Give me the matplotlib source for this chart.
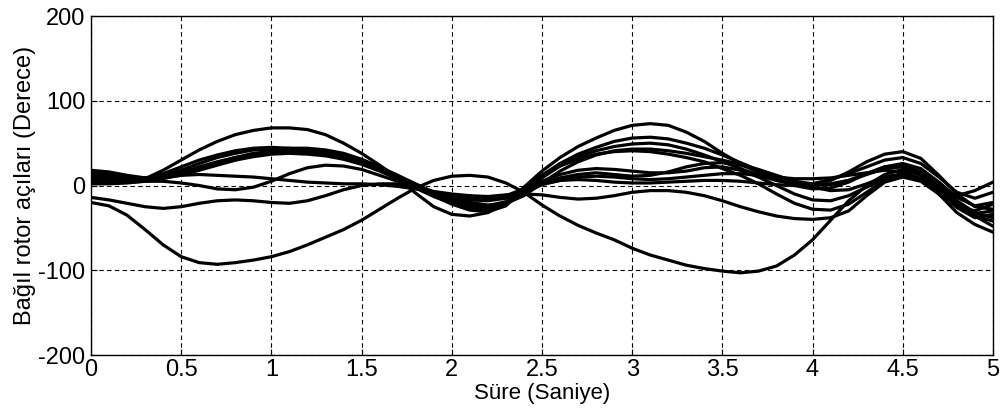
import numpy as np
import matplotlib
matplotlib.use("Agg")
import matplotlib.pyplot as plt

# time axis (s), read every 0.1 s
t = np.linspace(0, 5, 51)

# relative rotor angles (deg)
c1 = [-20, -24, -35, -52, -70, -84, -91, -93, -91, -88,
      -84, -78, -70, -61, -52, -41, -28, -15, -3, 6,
      11, 12, 10, 3, -8, -23, -36, -47, -56, -64,
      -74, -82, -88, -94, -98, -101, -103, -101, -95, -82,
      -64, -41, -18, 0, 13, 19, 12, -6, -26, -38, -34]
c2 = [5, 5, 5, 8, 18, 30, 42, 52, 60, 65,
      68, 68, 66, 60, 50, 38, 24, 9, -9, -25,
      -34, -36, -32, -21, -6, 12, 26, 37, 45, 52,
      56, 57, 55, 50, 44, 36, 27, 18, 8, 0,
      -4, -3, 4, 14, 22, 24, 16, 0, -18, -32, -38]
c3 = [3, 4, 5, 8, 14, 22, 30, 36, 41, 44,
      45, 44, 41, 37, 32, 26, 18, 8, -3, -13,
      -21, -27, -29, -20, -2, 17, 33, 46, 56, 65,
      71, 73, 71, 63, 52, 38, 26, 15, 6, 2,
      2, 6, 16, 28, 37, 40, 32, 12, -10, -25, -28]
c4 = [15, 13, 10, 9, 12, 18, 26, 33, 38, 42,
      43, 43, 42, 39, 34, 27, 18, 8, -2, -11,
      -17, -22, -24, -19, -8, 9, 23, 34, 41, 46,
      49, 50, 48, 43, 36, 28, 20, 12, 6, 2,
      0, 1, 6, 14, 22, 26, 20, 4, -14, -24, -20]
c5 = [10, 9, 8, 8, 10, 14, 20, 27, 33, 38,
      40, 41, 41, 39, 35, 29, 21, 12, 2, -8,
      -15, -20, -23, -21, -12, 3, 17, 28, 36, 41,
      43, 43, 41, 38, 34, 30, 25, 19, 12, 5,
      -2, -6, -5, 2, 10, 14, 8, -8, -24, -33, -30]
c6 = [6, 5, 4, 5, 5, 3, 0, -4, -5, -2,
      5, 14, 21, 24, 23, 19, 12, 5, -3, -10,
      -14, -17, -18, -15, -6, 5, 13, 18, 20, 19,
      17, 15, 15, 17, 21, 22, 18, 10, 0, -10,
      -17, -18, -12, -2, 8, 12, 6, -8, -24, -30, -22]
c7 = [12, 10, 8, 8, 10, 12, 13, 12, 11, 10,
      8, 6, 4, 3, 2, 2, 1, -1, -4, -8,
      -11, -14, -15, -12, -4, 2, 6, 10, 11, 10,
      8, 7, 8, 10, 12, 14, 14, 12, 10, 8,
      8, 9, 12, 15, 18, 16, 8, -4, -12, -6, 4]
c8 = [-14, -17, -21, -25, -27, -25, -21, -18, -17, -18,
      -20, -21, -18, -12, -5, 0, 2, 2, -2, -7,
      -10, -12, -13, -11, -10, -11, -14, -16, -15, -12,
      -8, -6, -6, -8, -12, -18, -25, -31, -36, -39,
      -40, -38, -30, -12, 4, 10, 5, -10, -25, -36, -42]
c9 = [2, 2, 3, 5, 8, 13, 19, 25, 30, 34,
      37, 38, 37, 35, 31, 25, 17, 8, -2, -11,
      -19, -24, -26, -22, -10, 2, 9, 13, 15, 13,
      11, 12, 16, 22, 26, 27, 24, 18, 11, 5,
      2, 2, 6, 13, 20, 22, 14, -4, -22, -36, -48]
c10 = [8, 7, 6, 6, 9, 15, 22, 28, 33, 36,
       38, 40, 40, 38, 35, 30, 22, 12, 0, -12,
       -22, -29, -31, -24, -4, 12, 23, 31, 37, 40,
       41, 40, 37, 33, 28, 20, 12, 2, -10, -21,
       -28, -29, -22, -8, 6, 14, 8, -10, -32, -46, -55]
c11 = [18, 16, 12, 9, 9, 12, 18, 24, 30, 36,
       42, 44, 44, 42, 38, 31, 22, 11, 0, -10,
       -18, -23, -25, -21, -9, 1, 6, 7, 6, 4,
       3, 3, 4, 5, 6, 6, 5, 3, 1, 0,
       2, 7, 14, 22, 30, 33, 26, 10, -8, -15, -8]

curves = [c1, c2, c3, c4, c5, c6, c7, c8, c9, c10, c11]

plt.rcParams['font.family'] = ['Liberation Sans', 'DejaVu Sans']
plt.rcParams['axes.unicode_minus'] = False

fig = plt.figure(figsize=(10.04, 4.16), dpi=100)
ax = fig.add_axes([0.0906, 0.1466, 0.8984, 0.8149])

for c in curves:
    ax.plot(t, c, color='black', lw=2.3, solid_capstyle='round',
            solid_joinstyle='round')

ax.set_xlim(0, 5)
ax.set_ylim(-200, 200)
ax.set_xticks(np.arange(0, 5.01, 0.5))
ax.set_xticklabels(['0', '0.5', '1', '1.5', '2', '2.5', '3', '3.5', '4', '4.5', '5'])
ax.set_yticks([-200, -100, 0, 100, 200])
ax.grid(True, color='black', linestyle=(0, (4, 3)), lw=0.8)
ax.tick_params(direction='in', length=4, labelsize=17)
ax.tick_params(axis='x', pad=3)
ax.tick_params(axis='y', pad=4)
for s in ax.spines.values():
    s.set_linewidth(1.0)

ax.set_xlabel('Süre (Saniye)', fontsize=16, labelpad=1)
ax.set_ylabel('Bağıl rotor açıları (Derece)', fontsize=17, labelpad=2)

fig.savefig('out.png', dpi=100)
